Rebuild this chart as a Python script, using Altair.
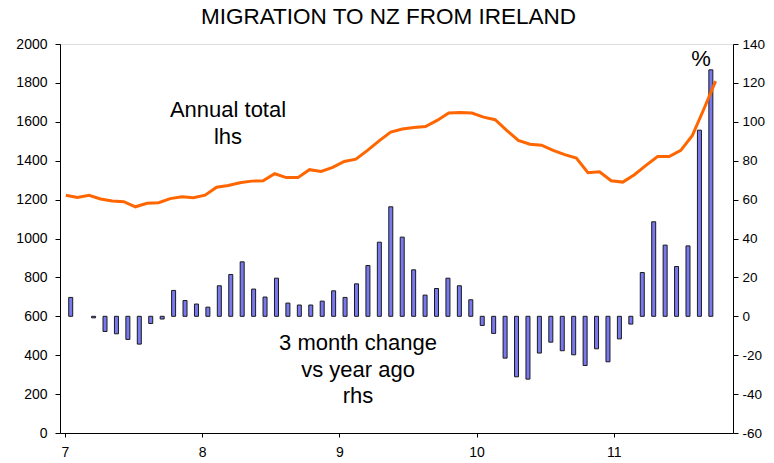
import altair as alt
import pandas as pd

# Monthly data Jan 2007 .. Sep 2011
years = [2007] * 12 + [2008] * 12 + [2009] * 12 + [2010] * 12 + [2011] * 9
months = list(range(1, 13)) * 4 + list(range(1, 10))

annual_total = [1222, 1211, 1222, 1203, 1193, 1189, 1163, 1181, 1184, 1205, 1215, 1210,
                1223, 1264, 1273, 1287, 1295, 1297, 1333, 1313, 1313, 1354, 1345, 1366,
                1396, 1408, 1453, 1502, 1547, 1563, 1571, 1576, 1607, 1645, 1648, 1645,
                1624, 1611, 1556, 1504, 1485, 1480, 1453, 1431, 1414, 1338, 1343, 1297,
                1290, 1328, 1376, 1421, 1421, 1453, 1530, 1667, 1809]

change_3m = [9.7, None, -0.8, -7.8, -9.0, -11.9, -14.3, -3.7, -1.4, 13.3, 8.1, 6.3,
             4.7, 15.7, 21.5, 28.0, 14.0, 9.9, 19.6, 6.8, 5.8, 5.8, 7.8, 13.1,
             9.7, 16.7, 26.1, 38.1, 56.3, 40.7, 23.9, 10.9, 14.3, 19.6, 15.7, 8.5,
             -4.7, -8.8, -21.5, -31.1, -32.3, -18.9, -13.3, -17.7, -19.8, -25.3, -16.7, -23.4,
             -11.6, -4.0, 22.5, 48.6, 36.6, 25.6, 36.2, 95.7, 126.7]

x_ticks = [7, 8, 9, 10, 11]
left_ticks = list(range(0, 2001, 200))
right_ticks = list(range(-60, 141, 20))

df = pd.DataFrame({
    "year": years,
    "month": months,
    "total": annual_total,
    "change": change_3m,
})
# mid-month position in years since 2000
df["t"] = df["year"] - 2000 + (df["month"] - 0.5) / 12

FONT = "Liberation Sans"
x_scale = alt.Scale(domain=[7, 7 + 58 / 12], nice=False, zero=False)
x_axis = alt.Axis(values=x_ticks, labelExpr="toString(datum.value)", title=None, grid=False,
                  tickSize=4, labelPadding=8, labelFontSize=14, labelFont=FONT,
                  domainColor="black", tickColor="black", labelColor="black",
                  labelFlush=False)

bars = alt.Chart(df).mark_bar(size=4, color="#7878F0", stroke="#1a1a1a",
                              strokeWidth=1).encode(
    x=alt.X("t:Q", scale=x_scale, axis=x_axis),
    y=alt.Y("change:Q",
            scale=alt.Scale(domain=[-60, 140], nice=False, zero=False),
            axis=alt.Axis(orient="right", values=right_ticks, title=None, grid=False,
                          labelExpr="toString(datum.value)",
                          tickSize=5, labelPadding=4, labelFontSize=13.5, labelFont=FONT,
                          domainColor="black", tickColor="black", labelColor="black",
                          labelFlush=False)),
    y2=alt.datum(0),
)

line = alt.Chart(df).mark_line(color="#FF6600", strokeWidth=3).encode(
    x=alt.X("t:Q", scale=x_scale, axis=None),
    y=alt.Y("total:Q",
            scale=alt.Scale(domain=[0, 2000], nice=False, zero=False),
            axis=alt.Axis(orient="left", values=left_ticks, title=None, grid=False,
                          labelExpr="toString(datum.value)",
                          tickSize=5, labelPadding=8, labelFontSize=14, labelFont=FONT,
                          domainColor="black", tickColor="black", labelColor="black",
                          labelFlush=False)),
)

ann_lines = ["Annual total", "lhs", "3 month change", "vs year ago", "rhs", "%"]
ann_df = pd.DataFrame({
    "label": ann_lines,
    "px": [168, 168, 298, 298, 298, 641],
    "py": [73, 100, 306, 332.5, 359, 22],
})
ann = alt.Chart(ann_df).mark_text(font=FONT, fontSize=22, color="black",
                                  baseline="alphabetic", align="center").encode(
    x=alt.X("px:Q", scale=None),
    y=alt.Y("py:Q", scale=None),
    text="label:N",
)

chart = alt.layer(bars, line, ann).resolve_scale(y="independent", x="independent").properties(
    width=673, height=389,
    autosize=alt.AutoSizeParams(type="none"),
    padding={"left": 52, "top": 36, "right": 33, "bottom": 28},
    title=alt.Title("MIGRATION TO NZ FROM IRELAND", font=FONT, fontSize=22.5,
                    fontWeight="normal", color="black", offset=9, dx=-8, anchor="middle"),
).configure_view(stroke="#555555", strokeWidth=1).configure(background="white")

chart.save("out.html", embed_options={"renderer": "svg", "actions": False})
